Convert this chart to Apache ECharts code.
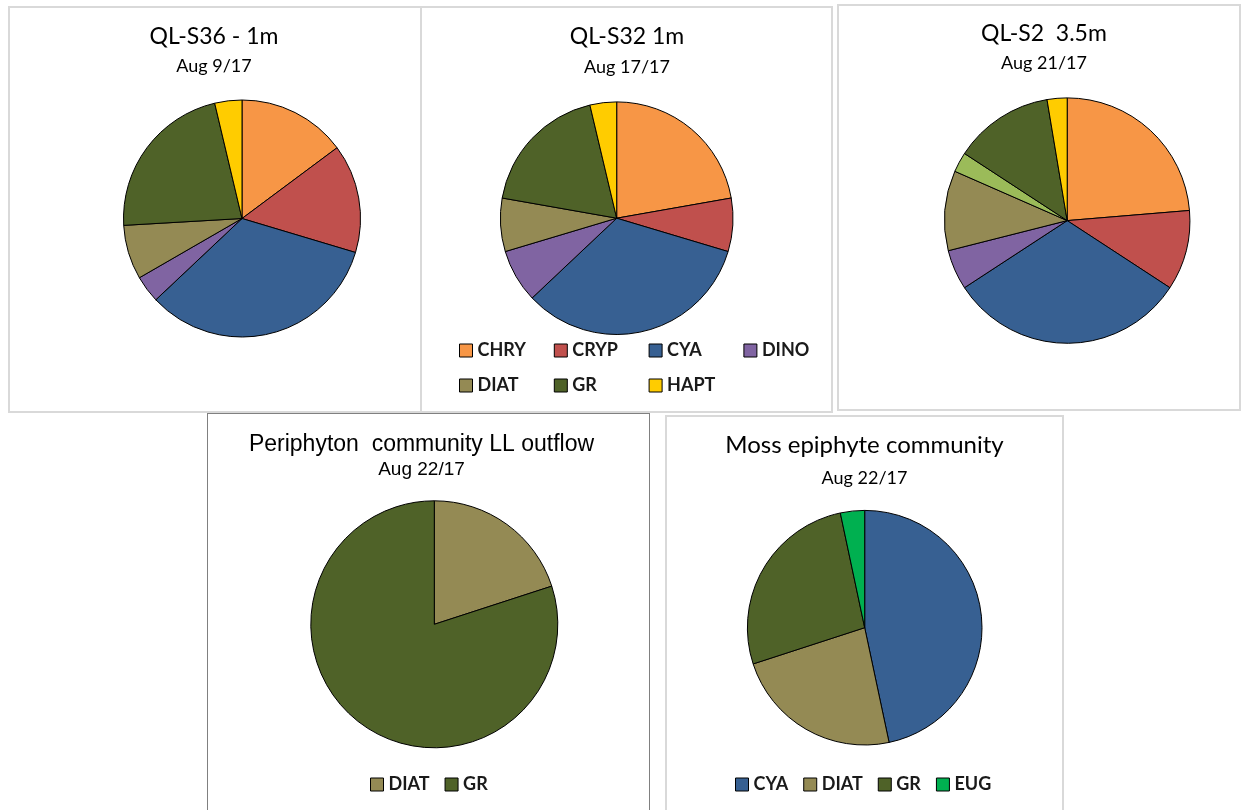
<!DOCTYPE html>
<html>
<head>
<meta charset="utf-8">
<script src="https://cdn.jsdelivr.net/npm/echarts@6/dist/echarts.min.js"></script>
<style>
  body { margin:0; background:#fff; width:1241px; height:810px; position:relative; overflow:hidden; }
  .panel { position:absolute; box-sizing:border-box; border:2px solid #D9D9D9; background:#fff; }
  .panel .chart { position:absolute; left:0; top:0; width:100%; height:100%; }
</style>
</head>
<body>
<div class="panel" style="left:8px;top:6px;width:414px;height:407px"><div class="chart" id="c1"></div></div>
<div class="panel" style="left:420px;top:6px;width:413px;height:407px"><div class="chart" id="c2"></div></div>
<div class="panel" style="left:837px;top:4px;width:404px;height:407px"><div class="chart" id="c3"></div></div>
<div class="panel" style="left:207px;top:413px;width:443px;height:410px;border:1px solid #808080"><div class="chart" id="c4"></div></div>
<div class="panel" style="left:665px;top:415px;width:399px;height:410px"><div class="chart" id="c5"></div></div>
<script>
// phytoplankton group counts
var groups = ['CHRY', 'CRYP', 'CYA', 'DINO', 'DIAT', 'GR', 'HAPT'];
var s36Values = [4, 4, 9, 1, 2, 6, 1];
var s32Values = [6, 2, 9, 2, 2, 5, 1];
var s2Groups = ['CHRY', 'CRYP', 'CYA', 'DINO', 'DIAT', 'OTHER', 'GR', 'HAPT'];
var s2Values = [9, 4, 12, 2, 4, 1, 5, 1];
var periGroups = ['DIAT', 'GR'];
var periValues = [1, 4];
var mossGroups = ['CYA', 'DIAT', 'GR', 'EUG'];
var mossValues = [14, 7, 8, 1];

var colors = {
  CHRY: '#F79646', CRYP: '#C0504D', CYA: '#376092', DINO: '#8064A2',
  DIAT: '#948A54', GR: '#4F6228', HAPT: '#FFCC00', OTHER: '#9BBB59', EUG: '#00B050'
};

var calibriLike = 'Lato, "Open Sans", sans-serif';
var arialLike = '"Liberation Sans", Arial, sans-serif';

function legendStyle(o){
  var base = {
    icon: 'rect', itemWidth: 13, itemHeight: 13, itemGap: 15,
    selectedMode: false,
    itemStyle: { borderColor: '#000', borderWidth: 1 },
    textStyle: { fontFamily: calibriLike, fontWeight: 'bold', fontSize: 18, color: '#1a1a1a' }
  };
  for (var k in o) base[k] = o[k];
  return base;
}

function drawPie(id, p){
  var chart = echarts.init(document.getElementById(id));
  var option = {
    animation: false,
    title: {
      text: p.title,
      subtext: p.sub,
      left: p.tx - 5,
      top: p.ty,
      textAlign: 'center',
      itemGap: p.gap,
      textStyle: { fontFamily: p.font, fontWeight: 'normal', fontSize: p.fs, color: '#000' },
      subtextStyle: { fontFamily: p.font, fontSize: p.sfs, color: '#000' }
    },
    legend: p.legend || [],
    series: [{
      type: 'pie',
      center: [p.cx, p.cy],
      radius: p.r,
      startAngle: 90,
      clockwise: true,
      silent: true,
      label: { show: false },
      labelLine: { show: false },
      itemStyle: { borderColor: '#000', borderWidth: 1 },
      data: p.names.map(function(n, i){
        return { name: n, value: p.values[i], itemStyle: { color: colors[n] } };
      })
    }]
  };
  chart.setOption(option);
  return chart;
}

// legend of panel 2 sits on a 4 column grid
var gridLegend = groups.map(function(n, i){
  return legendStyle({ data: [n], left: 32 + (i % 4) * 94.8, top: 328.5 + Math.floor(i / 4) * 35 });
});

drawPie('c1', { title: 'QL-S36 - 1m', sub: 'Aug 9/17', tx: 204, ty: 12, gap: 9, font: calibriLike, fs: 23, sfs: 18,
  cx: 232, cy: 210.5, r: 118.5, names: groups, values: s36Values });
drawPie('c2', { title: 'QL-S32 1m', sub: 'Aug 17/17', tx: 205, ty: 12, gap: 10, font: calibriLike, fs: 23, sfs: 18,
  cx: 194.7, cy: 210.2, r: 116.3, names: groups, values: s32Values, legend: gridLegend });
drawPie('c3', { title: 'QL-S2  3.5m', sub: 'Aug 21/17', tx: 205, ty: 11, gap: 9, font: calibriLike, fs: 23, sfs: 18,
  cx: 228.2, cy: 214.6, r: 122.7, names: s2Groups, values: s2Values });
drawPie('c4', { title: 'Periphyton  community LL outflow', sub: 'Aug 22/17', tx: 213.5, ty: 14.5, gap: 4, font: arialLike, fs: 23, sfs: 19,
  cx: 226.3, cy: 210.3, r: 123.5, names: periGroups, values: periValues,
  legend: [legendStyle({ data: periGroups, left: 157, top: 356.5 })] });
drawPie('c5', { title: 'Moss epiphyte community', sub: 'Aug 22/17', tx: 197.5, ty: 11, gap: 12, font: calibriLike, fs: 24, sfs: 18,
  cx: 197.7, cy: 210.7, r: 117.3, names: mossGroups, values: mossValues,
  legend: [legendStyle({ data: mossGroups, left: 63, top: 353.5 })] });
</script>
</body>
</html>
